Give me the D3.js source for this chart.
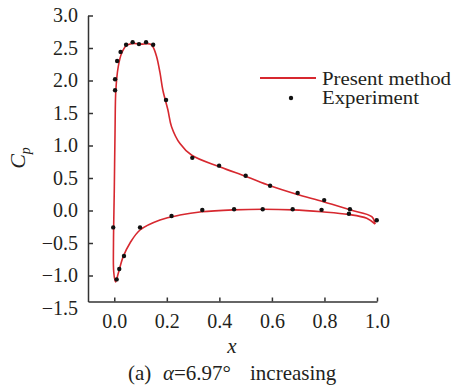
<!DOCTYPE html>
<html lang="en">
<head>
    <meta charset="UTF-8">
    <title>Cp distribution - alpha 6.97 increasing</title>
    <script src="https://d3js.org/d3.v7.min.js"></script>
    <style>
        body {
            margin: 0;
            background: #fff;
        }
        svg text {
            font-family: "Liberation Serif", "Times New Roman", serif;
            fill: #231f20;
        }
        .axis path, .axis line {
            stroke: #333;
            stroke-width: 1.5px;
        }
    </style>
</head>
<body>

<svg width="454" height="392"></svg>

<script>
    // Computed curve (present method): trailing edge -> upper branch -> leading edge -> lower branch -> trailing edge
    const curveX = [0.993, 0.980, 0.897, 0.796, 0.694, 0.593, 0.504, 0.403, 0.295, 0.250, 0.218, 0.204,
        0.185, 0.174, 0.161, 0.147, 0.136, 0.100, 0.071, 0.047, 0.028, 0.015, 0.006, 0.003,
        0.000, -0.003, -0.002, 0.005,
        0.015, 0.034, 0.060, 0.098, 0.174, 0.250, 0.333, 0.453, 0.567, 0.681, 0.790, 0.891, 0.961, 0.993];
    const curveY = [-0.21, -0.095, 0.01, 0.135, 0.25, 0.38, 0.52, 0.67, 0.85, 1.03, 1.29, 1.55,
        1.85, 2.12, 2.37, 2.52, 2.56, 2.56, 2.57, 2.54, 2.42, 2.21, 1.85, 1.24,
        0.30, -0.50, -0.95, -1.10,
        -0.97, -0.71, -0.50, -0.30, -0.146, -0.07, -0.02, 0.01, 0.02, 0.01, -0.02, -0.06, -0.12, -0.21];

    // Experimental points
    const expX = [0.003, 0.003, 0.011, 0.024, 0.045, 0.070, 0.094, 0.121, 0.148, 0.197, 0.297, 0.399,
        0.500, 0.593, 0.698, 0.799, 0.897, 0.999,
        -0.004, 0.009, 0.019, 0.037, 0.098, 0.218, 0.335, 0.456, 0.565, 0.679, 0.789, 0.893];
    const expY = [1.85, 2.02, 2.30, 2.44, 2.55, 2.59, 2.56, 2.59, 2.55, 1.70, 0.81, 0.69,
        0.535, 0.38, 0.27, 0.16, 0.02, -0.15,
        -0.26, -1.06, -0.90, -0.70, -0.26, -0.085, 0.008, 0.02, 0.02, 0.02, 0.01, -0.05];

    // Tick values
    const xTicks = [0.0, 0.2, 0.4, 0.6, 0.8, 1.0];
    const yTicks = [-1.5, -1.0, -0.5, 0.0, 0.5, 1.0, 1.5, 2.0, 2.5, 3.0];

    const svg = d3.select("svg");
    const red = "#d7282f";
    const serif = "'Liberation Serif', 'Times New Roman', serif";

    // Scales (x axis sits at Cp = -1.4, the -1.5 label hangs just under it)
    const x = d3.scaleLinear().domain([-0.1, 1.0]).range([88, 377]);
    const y = d3.scaleLinear().domain([-1.4, 3.0]).range([301.5, 15.5]);

    // Y axis, ticks pointing inward
    const yAxis = svg.append("g")
        .attr("class", "axis")
        .attr("transform", `translate(${x(-0.1)},0)`)
        .call(d3.axisLeft(y).tickValues(yTicks).tickFormat(d3.format(".1f"))
            .tickSizeInner(-5).tickSizeOuter(0).tickPadding(10));
    yAxis.attr("font-family", serif);
    yAxis.selectAll("text").style("font-size", "20px");
    yAxis.selectAll(".tick").filter(d => d < -1.4).select("line").remove();

    // X axis, ticks pointing inward
    const xAxis = svg.append("g")
        .attr("class", "axis")
        .attr("transform", `translate(0,${y(-1.4)})`)
        .call(d3.axisBottom(x).tickValues(xTicks).tickFormat(d3.format(".1f"))
            .tickSizeInner(-4).tickSizeOuter(0).tickPadding(12));
    xAxis.attr("font-family", serif);
    xAxis.selectAll("text").style("font-size", "20px");
    svg.selectAll(".axis .domain").attr("fill", "none");

    // Computed curve
    const line = d3.line()
        .x(i => x(curveX[i]))
        .y(i => y(curveY[i]))
        .curve(d3.curveCatmullRom.alpha(0.5));

    svg.append("path")
        .attr("d", line(d3.range(curveX.length)))
        .attr("fill", "none")
        .attr("stroke", red)
        .attr("stroke-width", 1.6);

    // Experimental dots
    svg.append("g")
        .selectAll("circle")
        .data(d3.range(expX.length))
        .enter()
        .append("circle")
        .attr("cx", i => x(expX[i]))
        .attr("cy", i => y(expY[i]))
        .attr("r", 2.2)
        .attr("fill", "#111");

    // Legend
    svg.append("line")
        .attr("x1", 260).attr("x2", 316)
        .attr("y1", 78).attr("y2", 78)
        .attr("stroke", red)
        .attr("stroke-width", 1.8);
    svg.append("text")
        .attr("x", 322).attr("y", 85)
        .attr("textLength", 129)
        .attr("lengthAdjust", "spacingAndGlyphs")
        .style("font-size", "18px")
        .text("Present method");
    svg.append("circle")
        .attr("cx", 291).attr("cy", 98)
        .attr("r", 2.2)
        .attr("fill", "#111");
    svg.append("text")
        .attr("x", 322).attr("y", 104)
        .attr("textLength", 97)
        .attr("lengthAdjust", "spacingAndGlyphs")
        .style("font-size", "18px")
        .text("Experiment");

    // Axis titles
    const cp = svg.append("text")
        .attr("transform", "translate(25,158) rotate(-90)")
        .attr("text-anchor", "middle")
        .style("font-size", "22px")
        .style("font-style", "italic");
    cp.append("tspan").text("C");
    cp.append("tspan").attr("dy", 5).style("font-size", "14px").text("p");

    svg.append("text")
        .attr("x", 232).attr("y", 353)
        .attr("text-anchor", "middle")
        .style("font-size", "21px")
        .style("font-style", "italic")
        .text("x");

    // Caption
    const cap = svg.append("text")
        .attr("y", 380)
        .style("font-size", "21px");
    cap.append("tspan").attr("x", 128).text("(a)");
    cap.append("tspan").attr("x", 163).style("font-style", "italic").text("α");
    cap.append("tspan").text("=6.97°");
    cap.append("tspan").attr("x", 250).text("increasing");
</script>

</body>
</html>
